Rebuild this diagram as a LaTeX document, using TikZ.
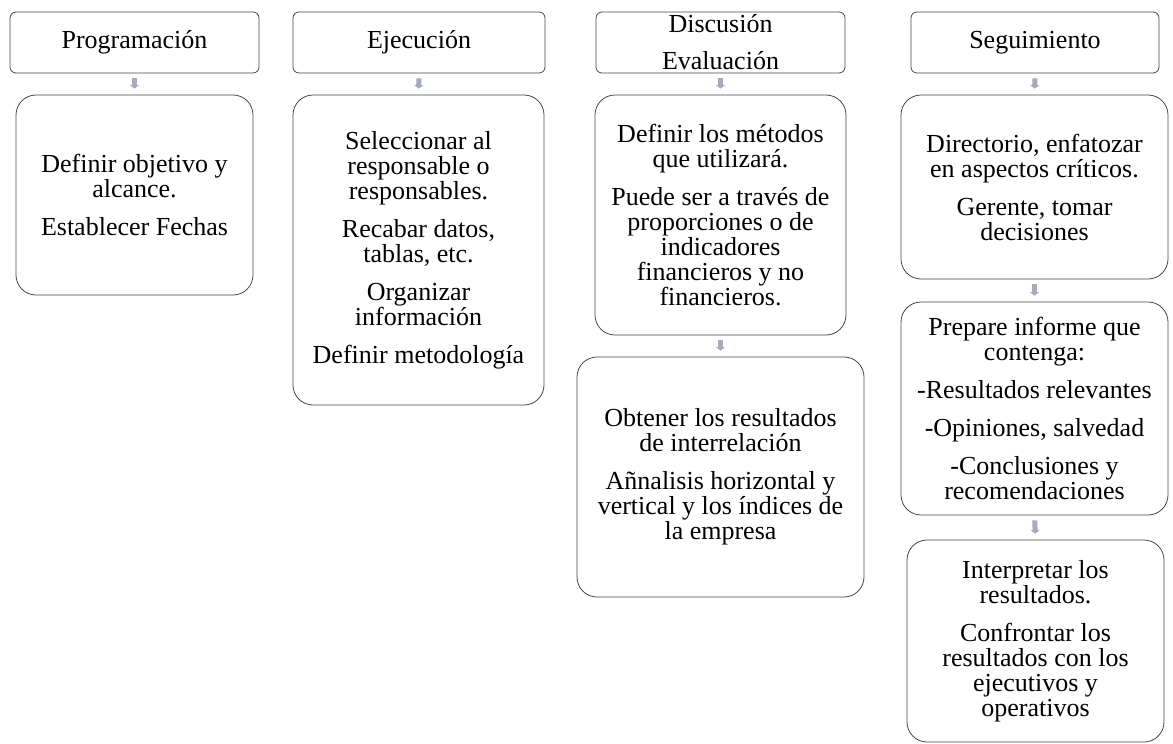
\documentclass[tikz,border=0pt]{standalone}
\usepackage{fontspec}
\setmainfont{Liberation Serif}
\usetikzlibrary{arrows.meta}
\definecolor{flowgray}{RGB}{165,171,188}
\definecolor{boxline}{RGB}{70,70,70}

\begin{document}
\begin{tikzpicture}[x=1pt, y=-1pt,
    head/.style={draw=boxline, line width=0.8pt, rounded corners=6pt, align=center, inner sep=0pt,
      font=\fontsize{26}{25}\selectfont},
    card/.style={draw=boxline, line width=0.8pt, rounded corners=20pt, align=center, inner sep=0pt,
      font=\fontsize{26}{25}\selectfont},
    flow/.style={draw=flowgray, line width=5pt, -{Triangle[width=9pt,length=3.5pt]},
      shorten <=5pt, shorten >=6pt}]
  \useasboundingbox (0,0) rectangle (1173,744);

  % column headers
  \node[head, minimum width=249pt, minimum height=61pt] (prog) at (134.5,42.5) {Programación};
  \node[head, minimum width=252pt, minimum height=61pt] (ejec) at (419,42.5) {Ejecución};
  \node[head, minimum width=249pt, minimum height=61pt] (disc) at (720.5,42.5) {Discusión\\[12pt]Evaluación};
  \node[head, minimum width=248pt, minimum height=61pt] (segu) at (1035,42.5) {Seguimiento};

  % programacion
  \node[card, minimum width=237pt, minimum height=200pt] (progA) at (134.5,195)
    {Definir objetivo y\\alcance.\\[13pt]Establecer Fechas};

  % ejecucion
  \node[card, minimum width=251pt, minimum height=310pt] (ejecA) at (418.5,250)
    {Seleccionar al\\responsable o\\responsables.\\[13pt]Recabar datos,\\tablas, etc.\\[13pt]Organizar\\información\\[13pt]Definir metodología};

  % discusion / evaluacion
  \node[card, minimum width=251pt, minimum height=240pt] (discA) at (720.5,215)
    {Definir los métodos\\que utilizará.\\[13pt]Puede ser a través de\\proporciones o de\\indicadores\\financieros y no\\financieros.};
  \node[card, minimum width=287pt, minimum height=240pt] (discB) at (720.5,477)
    {Obtener los resultados\\de interrelación\\[13pt]Añnalisis horizontal y\\vertical y los índices de\\la empresa};

  % seguimiento
  \node[card, minimum width=267pt, minimum height=184pt] (seguA) at (1034.5,187)
    {Directorio, enfatozar\\en aspectos críticos.\\[13pt]Gerente, tomar\\decisiones};
  \node[card, minimum width=267pt, minimum height=213pt] (seguB) at (1034.5,408.5)
    {Prepare informe que\\contenga:\\[13pt]-Resultados relevantes\\[13pt]-Opiniones, salvedad\\[13pt]-Conclusiones y\\recomendaciones};
  \node[card, minimum width=257pt, minimum height=202pt] (seguC) at (1035.5,641)
    {Interpretar los\\resultados.\\[13pt]Confrontar los\\resultados con los\\ejecutivos y\\operativos};

  % arrows
  \draw[flow] (prog.south) -- (progA.north);
  \draw[flow] (ejec.south) -- (ejecA.north);
  \draw[flow] (disc.south) -- (discA.north);
  \draw[flow] (discA.south) -- (discB.north);
  \draw[flow] (segu.south) -- (seguA.north);
  \draw[flow] (seguA.south) -- (seguB.north);
  \draw[flow] (seguB.south) -- (seguC.north);
\end{tikzpicture}
\end{document}
